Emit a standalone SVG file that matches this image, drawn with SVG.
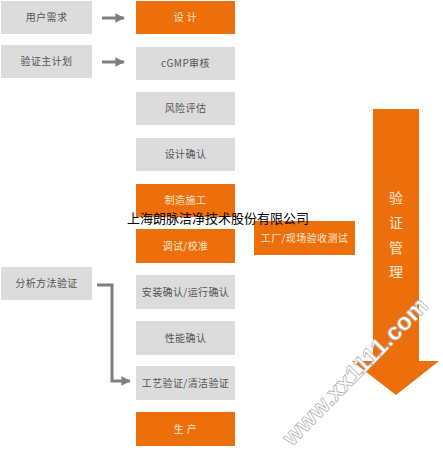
<svg xmlns="http://www.w3.org/2000/svg" width="443" height="461" viewBox="0 0 443 461">
<defs>
<style>
.g{fill:#dcdcdc}
.o{fill:#ec6f0c}
.t{font-family:"Noto Sans CJK SC","Noto Sans",sans-serif;font-size:10px;text-anchor:middle;letter-spacing:0.4px}
.tg{fill:#555}
.to{fill:#fde8d4}
.c{fill:none;stroke:#808080;stroke-width:3}
.wm{font-family:"Liberation Sans",sans-serif;font-weight:bold;font-size:24px;fill:#fff;stroke:#b8b8b8;stroke-width:0.8}
</style>
<marker id="ah" viewBox="0 0 10 10" refX="9" refY="5" markerWidth="3.2" markerHeight="3.2" orient="auto" markerUnits="strokeWidth">
<path d="M0,0 L10,5 L0,10 Z" fill="#808080"/>
</marker>
</defs>
<rect width="443" height="461" fill="#fff"/>
<g id="n-user"><rect class="g" x="1" y="1" width="91" height="33"/><text class="t tg" x="46.5" y="21">用户需求</text></g>
<g id="n-vmp"><rect class="g" x="1" y="45" width="91" height="33"/><text class="t tg" x="46.5" y="65">验证主计划</text></g>
<g id="n-amv"><rect class="g" x="1" y="267" width="91" height="33"/><text class="t tg" x="46.5" y="287">分析方法验证</text></g>
<g id="n-design"><rect class="o" x="136" y="1" width="99" height="33"/><text class="t to" x="185.5" y="21">设 计</text></g>
<g id="n-cgmp"><rect class="g" x="136" y="47" width="99" height="33"/><text class="t tg" x="185.5" y="67">cGMP审核</text></g>
<g id="n-risk"><rect class="g" x="136" y="92" width="99" height="33"/><text class="t tg" x="185.5" y="112">风险评估</text></g>
<g id="n-dq"><rect class="g" x="136" y="138" width="99" height="33"/><text class="t tg" x="185.5" y="158">设计确认</text></g>
<g id="n-build"><rect class="o" x="136" y="184" width="99" height="33"/><text class="t to" x="185.5" y="204">制造施工</text></g>
<g id="n-cal"><rect class="o" x="136" y="229" width="99" height="34"/><text class="t to" x="185.5" y="250">调试/校准</text></g>
<g id="n-iqoq"><rect class="g" x="136" y="275" width="99" height="34"/><text class="t tg" x="185.5" y="296">安装确认/运行确认</text></g>
<g id="n-pq"><rect class="g" x="136" y="321" width="99" height="34"/><text class="t tg" x="185.5" y="342">性能确认</text></g>
<g id="n-pv"><rect class="g" x="136" y="366" width="99" height="34"/><text class="t tg" x="185.5" y="387">工艺验证/清洁验证</text></g>
<g id="n-prod"><rect class="o" x="136" y="412" width="99" height="34"/><text class="t to" x="185.5" y="433">生 产</text></g>
<g id="n-fat"><rect class="o" x="254" y="221" width="101" height="34"/><text class="t to" x="304.5" y="242">工厂/现场验收测试</text></g>
<g id="n-vm">
<path class="o" d="M373,109 H419 V361 H439 L396,395 L352,361 H373 Z"/>
<g font-family="'Noto Sans CJK SC',sans-serif" font-size="14" fill="#fde8d4" text-anchor="middle">
<text x="396" y="203">验</text><text x="396" y="228">证</text><text x="396" y="253">管</text><text x="396" y="277">理</text>
</g>
</g>
<g id="connectors">
<path class="c" d="M102,18 H124" marker-end="url(#ah)"/>
<path class="c" d="M102,62 H124" marker-end="url(#ah)"/>
<path class="c" d="M97,285 H112 V381 H130" marker-end="url(#ah)"/>
</g>
<text x="127" y="223" font-family="'Noto Sans CJK SC',sans-serif" font-size="13" fill="#000" textLength="182" lengthAdjust="spacingAndGlyphs">上海朗脉洁净技术股份有限公司</text>
<text class="wm" x="0" y="0" transform="translate(292,447) rotate(-45.5)" textLength="196" lengthAdjust="spacingAndGlyphs">www.xx1111.com</text>
</svg>
